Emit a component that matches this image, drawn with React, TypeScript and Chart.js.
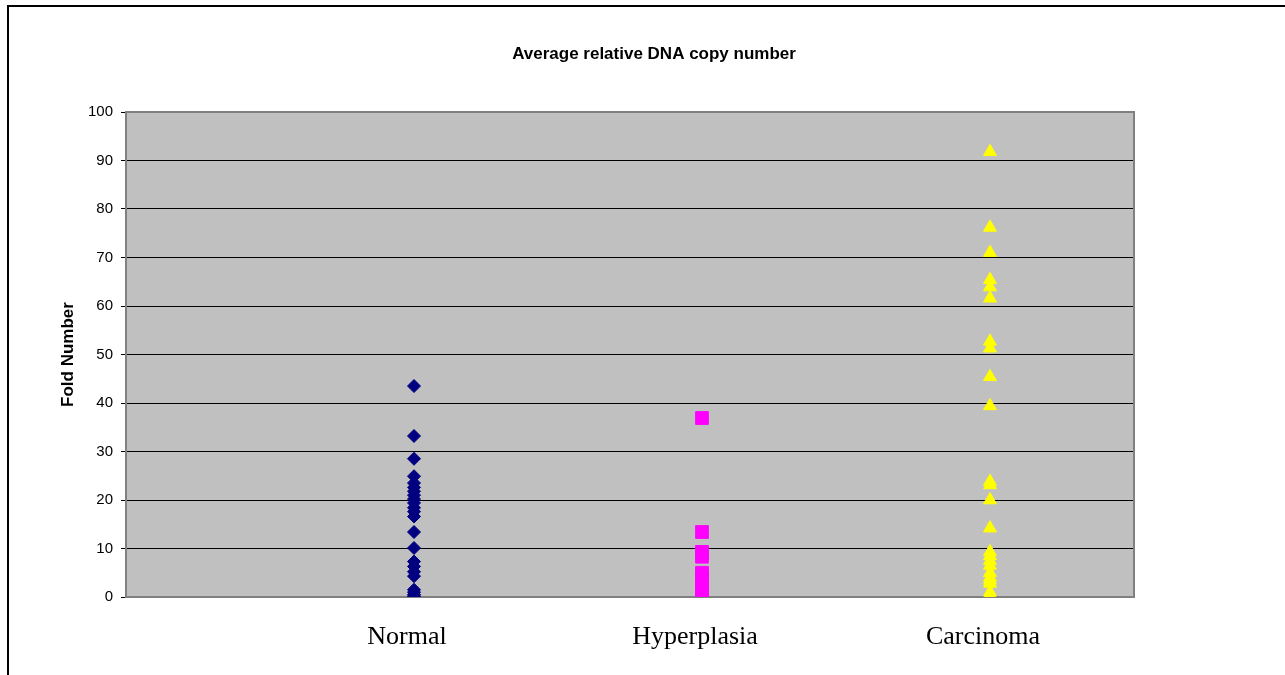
import React, { useEffect, useRef } from "react";
import { Chart, registerables } from "chart.js";

Chart.register(...registerables);

const categories = ["Normal", "Hyperplasia", "Carcinoma"];
const normalValues = [43.5, 33.2, 28.5, 24.9, 23.5, 22.6, 21.8, 21.0, 20.2, 19.4, 18.4, 17.6, 16.6, 13.4, 10.1, 7.3, 6.3, 5.2, 4.3, 1.5, 1.0, 0.5, 0.2, 0.0];
const hyperplasiaValues = [36.9, 13.4, 9.3, 8.3, 5.0, 4.2, 3.4, 2.6, 1.8, 1.0, 0.4];
const carcinomaValues = [91.8, 76.2, 71.0, 65.4, 63.9, 61.6, 52.7, 51.3, 45.4, 39.4, 23.8, 23.1, 20.0, 14.2, 9.3, 8.5, 7.5, 6.5, 5.0, 4.0, 3.4, 2.8, 1.0, 0.4];
const yTicks = [0, 10, 20, 30, 40, 50, 60, 70, 80, 90, 100];

const chartTitle = "Average relative DNA copy number";
const yTitle = "Fold Number";

export default function App() {
  const ref = useRef<HTMLCanvasElement | null>(null);

  useEffect(() => {
    if (!ref.current) return;
    const toPts = (vals: number[], x: number) => vals.map((v) => ({ x, y: v }));

    const decor = {
      id: "decor",
      beforeDraw(chart: any) {
        const { ctx, chartArea: a } = chart;
        ctx.save();
        ctx.fillStyle = "#ffffff";
        ctx.fillRect(0, 0, chart.width, chart.height);
        ctx.fillStyle = "#C0C0C0";
        ctx.fillRect(a.left, a.top, a.right - a.left, a.bottom - a.top);
        // outer frame
        ctx.strokeStyle = "#000000";
        ctx.lineWidth = 2;
        ctx.beginPath();
        ctx.moveTo(8, 680);
        ctx.lineTo(8, 6);
        ctx.lineTo(1290, 6);
        ctx.stroke();
        // title
        ctx.fillStyle = "#000000";
        ctx.font = "bold 17px 'Liberation Sans', Arial, sans-serif";
        ctx.textAlign = "center";
        ctx.textBaseline = "middle";
        ctx.fillText(chartTitle, 654, 54);
        // y title
        ctx.translate(68, (a.top + a.bottom) / 2);
        ctx.rotate(-Math.PI / 2);
        ctx.font = "bold 17px 'Liberation Sans', Arial, sans-serif";
        ctx.fillText(yTitle, 0, 0);
        ctx.restore();
      },
      beforeDatasetsDraw(chart: any) {
        const { ctx, chartArea: a } = chart;
        ctx.save();
        ctx.strokeStyle = "#808080";
        ctx.lineWidth = 2;
        ctx.strokeRect(a.left, a.top, a.right - a.left, a.bottom - a.top);
        ctx.restore();
      },
    };

    const chart = new Chart(ref.current, {
      type: "scatter",
      data: {
        datasets: [
          {
            label: categories[0],
            data: toPts(normalValues, 1),
            pointStyle: "rectRot",
            pointRadius: 6.5,
            backgroundColor: "#000080",
            borderColor: "#000080",
            borderWidth: 1,
          },
          {
            label: categories[1],
            data: toPts(hyperplasiaValues, 2),
            pointStyle: "rect",
            pointRadius: 9,
            backgroundColor: "#FF00FF",
            borderColor: "#FF00FF",
            borderWidth: 1,
          },
          {
            label: categories[2],
            data: toPts(carcinomaValues, 3),
            pointStyle: "triangle",
            pointRadius: 7.5,
            backgroundColor: "#FFFF00",
            borderColor: "#FFFF00",
            borderWidth: 1,
          },
        ],
      },
      options: {
        responsive: false,
        animation: false,
        events: [],
        layout: { padding: { left: 56, top: 112, right: 151, bottom: 8 } },
        plugins: { legend: { display: false }, title: { display: false }, tooltip: { enabled: false } },
        scales: {
          x: {
            type: "linear",
            min: 0,
            max: 3.5,
            clip: false,
            afterFit: (s: any) => {
              s.height = 70;
            },
            afterBuildTicks: (s: any) => {
              s.ticks = [1, 2, 3].map((v) => ({ value: v }));
            },
            grid: { display: false, drawTicks: false },
            border: { display: false },
            ticks: {
              autoSkip: false,
              maxRotation: 0,
              padding: 25,
              labelOffset: -7,
              color: "#000000",
              font: { family: "'Liberation Serif', 'Times New Roman', serif", size: 26 },
              callback: (v: any) => categories[Number(v) - 1] ?? "",
            },
          },
          y: {
            min: 0,
            max: 100,
            afterFit: (s: any) => {
              s.width = 70;
            },
            afterBuildTicks: (s: any) => {
              s.ticks = yTicks.map((v) => ({ value: v }));
            },
            grid: { color: "#000000", lineWidth: 1, tickColor: "#000000", tickLength: 5 },
            border: { display: false },
            ticks: {
              padding: 8,
              color: "#000000",
              font: { family: "'Liberation Sans', Arial, sans-serif", size: 15 },
            },
          },
        },
      },
      plugins: [decor],
    });
    return () => chart.destroy();
  }, []);

  return (
    <div style={{ position: "absolute", left: 0, top: 0, width: 1285, height: 675 }}>
      <canvas ref={ref} width={1285} height={675} style={{ display: "block" }} />
    </div>
  );
}
